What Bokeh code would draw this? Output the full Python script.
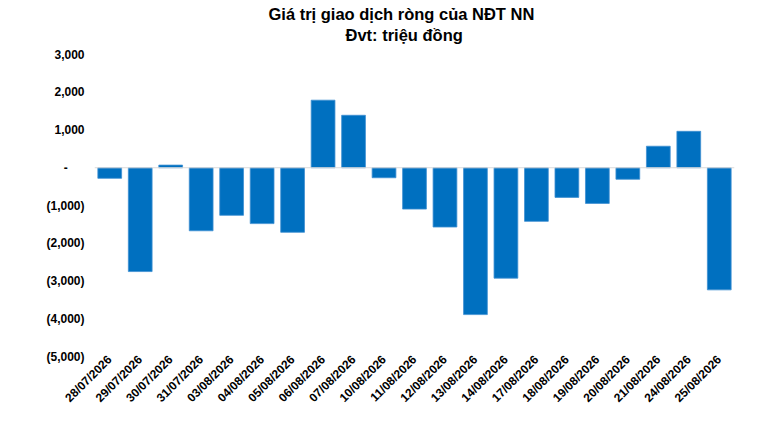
import math
from bokeh.plotting import figure
from bokeh.models import FactorRange, Range1d, FixedTicker, Title, Span, ColumnDataSource
from bokeh.embed import file_html
from bokeh.resources import INLINE

dates = ["28/07/2026", "29/07/2026", "30/07/2026", "31/07/2026", "03/08/2026",
         "04/08/2026", "05/08/2026", "06/08/2026", "07/08/2026", "10/08/2026",
         "11/08/2026", "12/08/2026", "13/08/2026", "14/08/2026", "17/08/2026",
         "18/08/2026", "19/08/2026", "20/08/2026", "21/08/2026", "24/08/2026",
         "25/08/2026"]
net_values = [-280, -2750, 70, -1670, -1260, -1480, -1710, 1790, 1390, -265,
              -1095, -1570, -3890, -2925, -1420, -785, -945, -305, 570, 965, -3235]
y_ticks = [-5000, -4000, -3000, -2000, -1000, 0, 1000, 2000, 3000]
y_tick_labels = ["(5,000)", "(4,000)", "(3,000)", "(2,000)", "(1,000)",
                 "-\u00a0\u00a0\u00a0\u00a0\u00a0", "1,000", "2,000", "3,000"]

title_main = "Giá trị giao dịch ròng của NĐT NN"
title_sub = "Đvt: triệu đồng"

FONT = "Liberation Sans"

source = ColumnDataSource(data=dict(x=dates, top=net_values))

p = figure(width=750, height=414, output_backend="svg", toolbar_location=None,
           x_range=FactorRange(factors=dates), y_range=Range1d(-5000, 3000),
           min_border_left=94, min_border_right=16, min_border_top=54,
           min_border_bottom=58)

p.vbar(x="x", top="top", bottom=0, width=0.78, source=source,
       fill_color="#0070C0", line_color="#3F8FD2", line_width=0.8)

p.add_layout(Span(location=0, dimension="width", line_color="#D9D9D9", line_width=1.2))

# titles (first added sits closest to the plot)
p.add_layout(Title(text=title_sub, align="left", offset=251, text_font=FONT,
                   text_font_size="16.5px", text_font_style="bold",
                   text_color="#000000", standoff=22), "above")
p.add_layout(Title(text=title_main, align="left", offset=174, text_font=FONT,
                   text_font_size="16.5px", text_font_style="bold",
                   text_color="#000000", standoff=-20), "above")

p.yaxis.ticker = FixedTicker(ticks=y_ticks)
p.yaxis.major_label_overrides = {t: l for t, l in zip(y_ticks, y_tick_labels)}
p.yaxis.axis_line_color = None
p.yaxis.major_tick_line_color = None
p.yaxis.minor_tick_line_color = None
p.yaxis.major_label_text_font = FONT
p.yaxis.major_label_text_font_size = "12px"
p.yaxis.major_label_text_font_style = "bold"
p.yaxis.major_label_text_color = "#000000"
p.yaxis.major_label_standoff = 4

p.xaxis.axis_line_color = None
p.xaxis.major_tick_line_color = None
p.xaxis.major_tick_out = 0
p.xaxis.major_tick_in = 0
p.xaxis.major_label_orientation = math.pi / 4
p.xaxis.major_label_text_font = FONT
p.xaxis.major_label_text_font_size = "12px"
p.xaxis.major_label_text_font_style = "bold"
p.xaxis.major_label_text_color = "#000000"
p.xaxis.major_label_standoff = 1

p.xgrid.grid_line_color = None
p.ygrid.grid_line_color = None
p.outline_line_color = None
p.background_fill_color = "white"
p.border_fill_color = "white"

open("out.html", "w").write(file_html(p, INLINE))
